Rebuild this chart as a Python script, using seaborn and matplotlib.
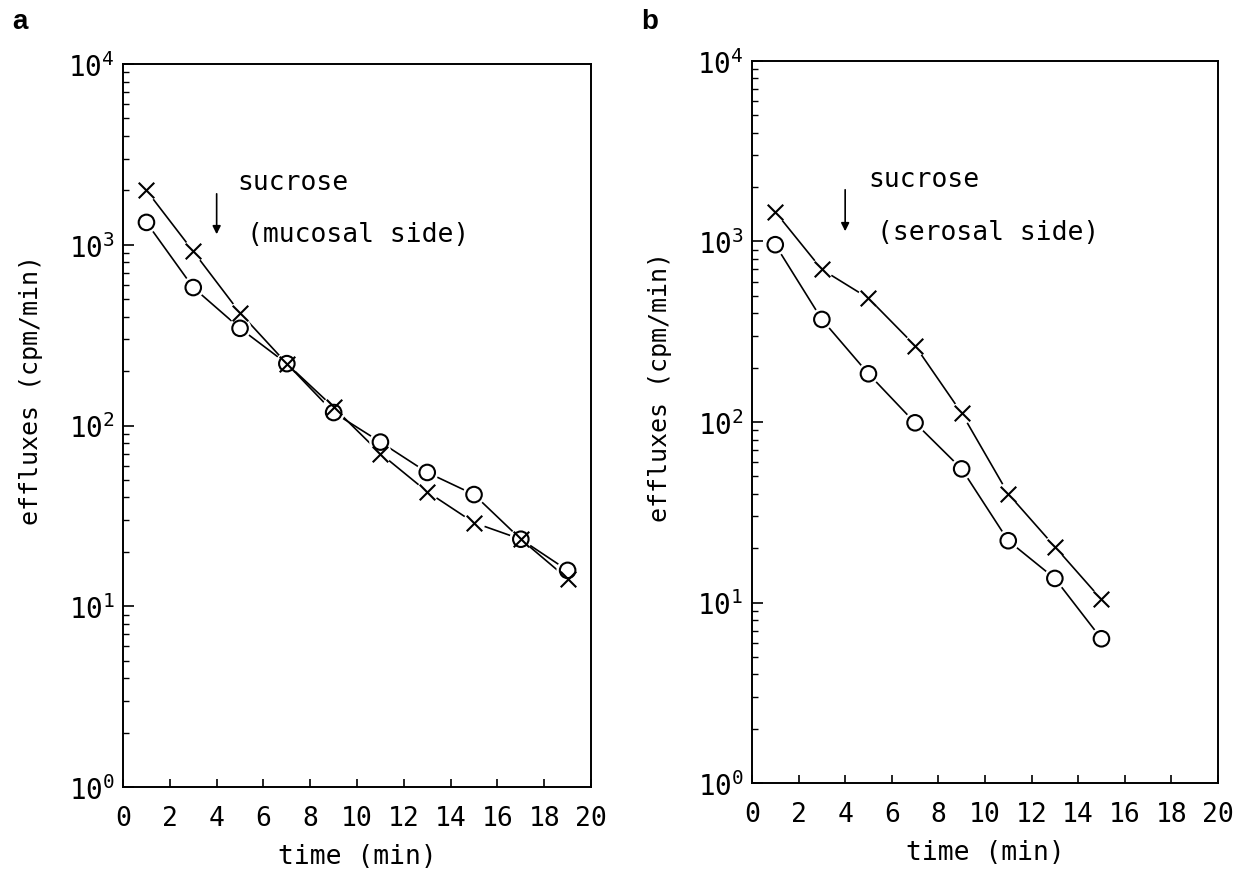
import matplotlib
matplotlib.use('Agg')
import matplotlib.pyplot as plt
import matplotlib.ticker as mticker
import seaborn as sns
import pandas as pd

# panel a: sucrose added on mucosal side
time_a = [1, 3, 5, 7, 9, 11, 13, 15, 17, 19]
cross_a = [2000, 920, 420, 220, 126, 70, 43, 29, 23.5, 14.2]
circle_a = [1330, 580, 345, 220, 118, 81, 55, 41.5, 23.5, 15.8]

# panel b: sucrose added on serosal side
time_b = [1, 3, 5, 7, 9, 11, 13, 15]
cross_b = [1460, 700, 485, 265, 112, 40, 20.4, 10.4]
circle_b = [960, 370, 185, 99, 55, 22, 13.6, 6.3]

x_ticks = list(range(0, 21, 2))
y_decades = [0, 1, 2, 3, 4]

sns.set_style('ticks')
plt.rcParams['font.family'] = ['DejaVu Sans Mono', 'DejaVu Sans']
plt.rcParams['mathtext.default'] = 'regular'
for key in ('text.color', 'axes.labelcolor', 'xtick.color', 'ytick.color',
            'axes.edgecolor'):
    plt.rcParams[key] = 'black'

fig = plt.figure(figsize=(12.38, 8.79), dpi=100)
ax_a = fig.add_axes([0.0994, 0.1035, 0.378, 0.8225])
ax_b = fig.add_axes([0.6074, 0.108, 0.3764, 0.8215])


def draw_panel(ax, t, crosses, circles, note, arrow_x, arrow_y, txt_pos):
    df_x = pd.DataFrame({'time': t, 'efflux': crosses})
    df_o = pd.DataFrame({'time': t, 'efflux': circles})
    for d in (df_x, df_o):
        sns.lineplot(data=d, x='time', y='efflux', ax=ax, color='black',
                     lw=1.2, zorder=2)
    # white halos so lines stop short of the symbols
    for d in (df_x, df_o):
        sns.scatterplot(data=d, x='time', y='efflux', ax=ax, marker='o',
                        s=260, color='white', edgecolor='none', zorder=3)
    sns.scatterplot(data=df_o, x='time', y='efflux', ax=ax, marker='o',
                    s=125, facecolor='none', edgecolor='black',
                    linewidth=1.5, zorder=4)
    sns.scatterplot(data=df_x, x='time', y='efflux', ax=ax, marker='x',
                    s=125, color='black', linewidth=1.5, zorder=5)

    ax.set_yscale('log')
    ax.set_xlim(0, 20)
    ax.set_ylim(1, 1e4)
    ax.set_xticks(x_ticks)
    ax.set_xticklabels([str(v) for v in x_ticks])
    ax.yaxis.set_major_locator(mticker.FixedLocator([10 ** d for d in y_decades]))
    ax.yaxis.set_major_formatter(mticker.FixedFormatter(
        [r'$10^{%d}$' % d for d in y_decades]))
    ax.yaxis.set_minor_locator(mticker.LogLocator(base=10, subs=range(2, 10)))
    ax.yaxis.set_minor_formatter(mticker.NullFormatter())
    ax.tick_params(axis='y', which='major', direction='in', length=8,
                   width=1.2, pad=6, labelsize=20)
    ax.tick_params(axis='y', which='minor', direction='in', length=4.5,
                   width=1.0)
    ax.tick_params(axis='x', which='major', direction='in', length=6,
                   width=1.2, pad=13, labelsize=19)
    ax.tick_params(top=False, right=False, which='both')
    for sp in ax.spines.values():
        sp.set_visible(True)
        sp.set_linewidth(1.4)
        sp.set_color('black')

    ax.set_xlabel('time (min)', fontsize=19)
    ax.set_ylabel('effluxes (cpm/min)', fontsize=18)
    ax.xaxis.set_label_coords(0.5, -0.078)
    ax.yaxis.set_label_coords(-0.172, 0.55)

    ax.annotate('', xy=(arrow_x, arrow_y[1]), xytext=(arrow_x, arrow_y[0]),
                arrowprops=dict(arrowstyle='-|>', color='black', lw=1.2,
                                mutation_scale=12))
    ax.text(txt_pos[0][0], txt_pos[0][1], 'sucrose', fontsize=19,
            ha='left', va='center')
    ax.text(txt_pos[1][0], txt_pos[1][1], note, fontsize=19,
            ha='left', va='center')


draw_panel(ax_a, time_a, cross_a, circle_a, '(mucosal side)',
           4.0, (1983, 1104), ((4.9, 2224), (5.3, 1148)))
draw_panel(ax_b, time_b, cross_b, circle_b, '(serosal side)',
           4.0, (2004, 1100), ((5.0, 2218), (5.36, 1128)))

fig.text(0.010, 0.975, 'a', fontsize=20, fontweight='bold',
         family=['Liberation Sans', 'DejaVu Sans'], ha='left', va='center')
fig.text(0.518, 0.975, 'b', fontsize=20, fontweight='bold',
         family=['Liberation Sans', 'DejaVu Sans'], ha='left', va='center')

fig.savefig('out.png', dpi=100, facecolor='white')
